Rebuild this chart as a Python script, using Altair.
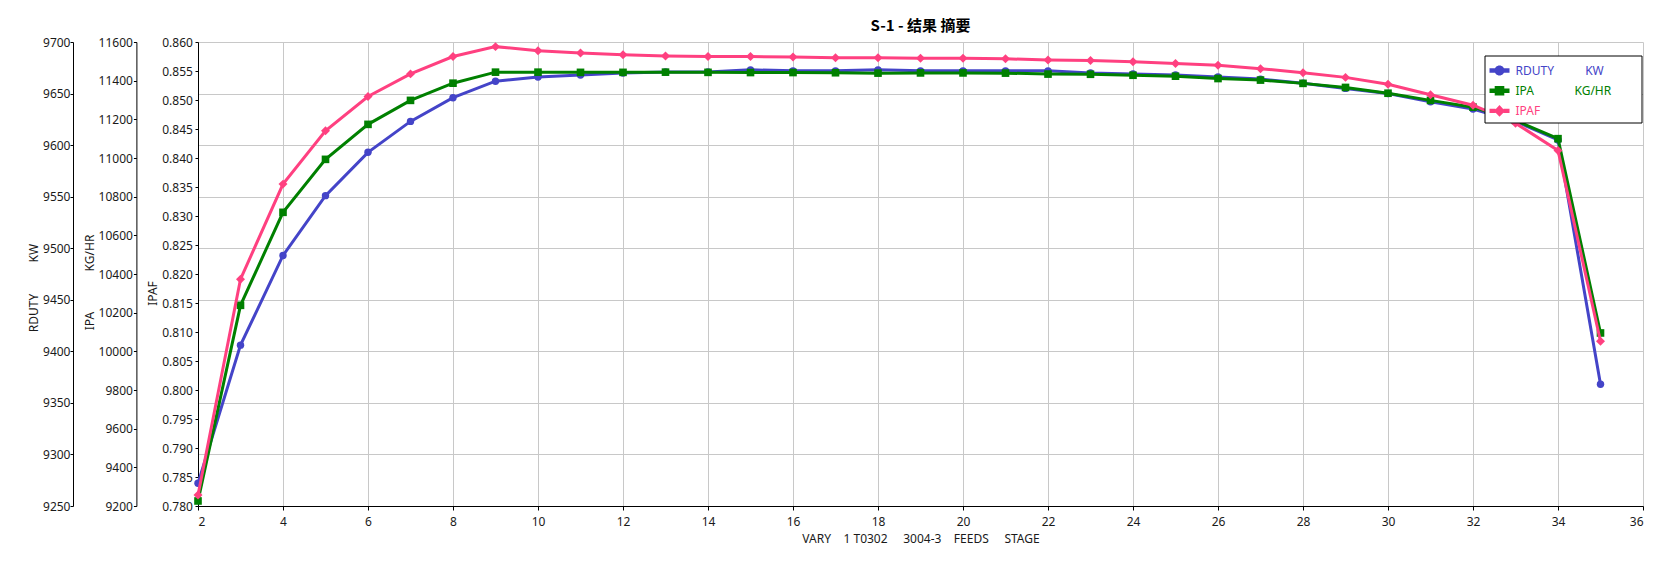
import altair as alt
import pandas as pd

NB = "\u00a0"
END = "\u2800"

stage = list(range(2, 36))
rduty = [9272, 9406, 9493, 9551, 9593, 9623, 9646, 9662, 9666, 9668, 9670, 9671,
         9671, 9673, 9672, 9672, 9673, 9672, 9672, 9672, 9672, 9670, 9669, 9668,
         9666, 9664, 9660, 9655, 9650, 9642, 9635, 9623, 9605, 9368]
ipa = [9226, 10238, 10719, 10993, 11174, 11298, 11387, 11444, 11444, 11443, 11443,
       11444, 11443, 11442, 11442, 11441, 11439, 11440, 11440, 11439, 11434, 11433,
       11428, 11423, 11411, 11403, 11386, 11365, 11335, 11298, 11263, 11194, 11100,
       10095]
ipaf = [0.7819, 0.8191, 0.8355, 0.8447, 0.8506, 0.8545, 0.8575, 0.8592, 0.8585,
        0.8581, 0.8578, 0.8576, 0.8575, 0.8575, 0.8574, 0.8573, 0.8573, 0.8572,
        0.8572, 0.8571, 0.8569, 0.8568, 0.8566, 0.8563, 0.8560, 0.8554, 0.8547,
        0.8539, 0.8527, 0.8509, 0.8491, 0.8460, 0.8413, 0.8084]

series_names = ["RDUTY", "IPA", "IPAF"]
series_units = ["KW", "KG/HR", ""]
series_colors = ["#4444c8", "#008000", "#ff4080"]

x_ticks = list(range(2, 37, 2))
rduty_ticks = list(range(9250, 9701, 50))
ipa_ticks = list(range(9200, 11601, 200))
ipaf_ticks = [round(0.780 + 0.005 * i, 3) for i in range(17)]

df = pd.DataFrame({"stage": stage, "RDUTY": rduty, "IPA": ipa, "IPAF": ipaf})
legend_df = pd.DataFrame({"series": series_names})

TXT = "#1a1a1a"
GRID = "#c8c8c8"

x_title = ("VARY" + NB * 4 + "1 T0302" + NB * 5 + "3004-3" + NB * 4 + "FEEDS"
           + NB * 5 + "STAGE")
x_enc = alt.X(
    "stage:Q",
    scale=alt.Scale(domain=[2, 36], nice=False, zero=False),
    axis=alt.Axis(values=x_ticks, grid=True, gridColor=GRID, title=x_title,
                  tickSize=4, labelPadding=6, titlePadding=6, format="d",
                  titleFontWeight="normal"),
)

base = alt.Chart(df)


def series_layer(field, color, shape, size, domain, ticks, offset, title,
                 tx, ty, grid, fmt, lpad):
    y = alt.Y(
        f"{field}:Q",
        scale=alt.Scale(domain=domain, nice=False, zero=False),
        axis=alt.Axis(orient="left", offset=offset, values=ticks, grid=grid,
                      gridColor=GRID, title=title, titleX=tx, titleY=ty,
                      tickSize=3, labelPadding=lpad, format=fmt,
                      titleFontWeight="normal"),
    )
    line = base.mark_line(color=color, strokeWidth=3).encode(x=x_enc, y=y)
    pts = base.mark_point(shape=shape, filled=True, size=size, color=color,
                          opacity=1).encode(x=x_enc, y=y)
    return alt.layer(line, pts)


l_rduty = series_layer("RDUTY", series_colors[0], "circle", 55,
                       [9250, 9700], rduty_ticks, 125,
                       "RDUTY" + NB * 10 + "KW", -33, 245.5, True, "d", 0)
l_ipa = series_layer("IPA", series_colors[1], "square", 58,
                     [9200, 11600], ipa_ticks, 61.6,
                     "IPA" + NB * 13 + "KG/HR", -40, 240, False, "d", 1)
l_ipaf = series_layer("IPAF", series_colors[2], "diamond", 80,
                      [0.78, 0.86], ipaf_ticks, 0,
                      "IPAF", -39, 251, False, ".3f", 2.6)

line_l = "M-1,-0.22L-0.4,-0.22L-0.4,0.22L-1,0.22Z"
line_r = "M0.4,-0.22L1,-0.22L1,0.22L0.4,0.22Z"
sym_circle = line_l + line_r + "M0.5,0A0.5,0.5 0 1,1 -0.5,0A0.5,0.5 0 1,1 0.5,0Z"
sym_square = line_l + line_r + "M-0.48,-0.48L0.48,-0.48L0.48,0.48L-0.48,0.48Z"
sym_diamond = line_l + line_r + "M0,-0.58L0.55,0L0,0.58L-0.55,0Z"

lab_expr = ("datum.value == 'RDUTY' ? 'RDUTY" + NB * 10 + "KW" + NB * 7 + END + "' : "
            "datum.value == 'IPA' ? 'IPA" + NB * 13 + "KG/HR" + NB * 5 + END
            + "' : 'IPAF'")
col_expr = ("datum.value == 'RDUTY' ? '%s' : datum.value == 'IPA' ? '%s' : '%s'"
            % tuple(series_colors))


def make_legend():
    return alt.Legend(
        title=None, orient="none", legendX=1286.5, legendY=13.5,
        fillColor="white", strokeColor="black", padding=5,
        symbolSize=400, symbolStrokeWidth=0, symbolOpacity=1,
        labelFont="Noto Sans", labelFontSize=12, labelOffset=6,
        labelLimit=400, rowPadding=4.2,
        labelExpr=lab_expr,
        labelColor=alt.ExprRef(expr=col_expr))


legend_layer = alt.Chart(legend_df).transform_filter("false").mark_point(
    filled=True, opacity=1
).encode(
    color=alt.Color("series:N",
                    scale=alt.Scale(domain=series_names, range=series_colors),
                    legend=make_legend()),
    shape=alt.Shape("series:N",
                    scale=alt.Scale(domain=series_names,
                                    range=[sym_circle, sym_square, sym_diamond]),
                    legend=make_legend()),
)

chart = alt.layer(l_rduty, l_ipa, l_ipaf, legend_layer).resolve_scale(
    y="independent"
).properties(
    width=1445,
    height=464,
    background="white",
    title=alt.Title("S-1 - 结果 摘要", font="Noto Sans CJK SC", fontSize=15,
                    fontWeight="bold", color="black", anchor="middle",
                    frame="group", offset=2),
    padding={"left": 190, "top": 34, "right": 12, "bottom": 50},
    autosize=alt.AutoSizeParams(type="none"),
).configure_view(
    strokeWidth=0
).configure_axis(
    labelFont="Noto Sans", labelFontSize=12, labelColor=TXT,
    titleFont="Noto Sans", titleFontSize=12, titleColor=TXT, titleFontWeight="normal",
    domainColor="black", tickColor="black", domainWidth=1, tickWidth=1,
    gridWidth=1,
)

chart.save("out.html", embed_options={"renderer": "svg", "actions": False})
